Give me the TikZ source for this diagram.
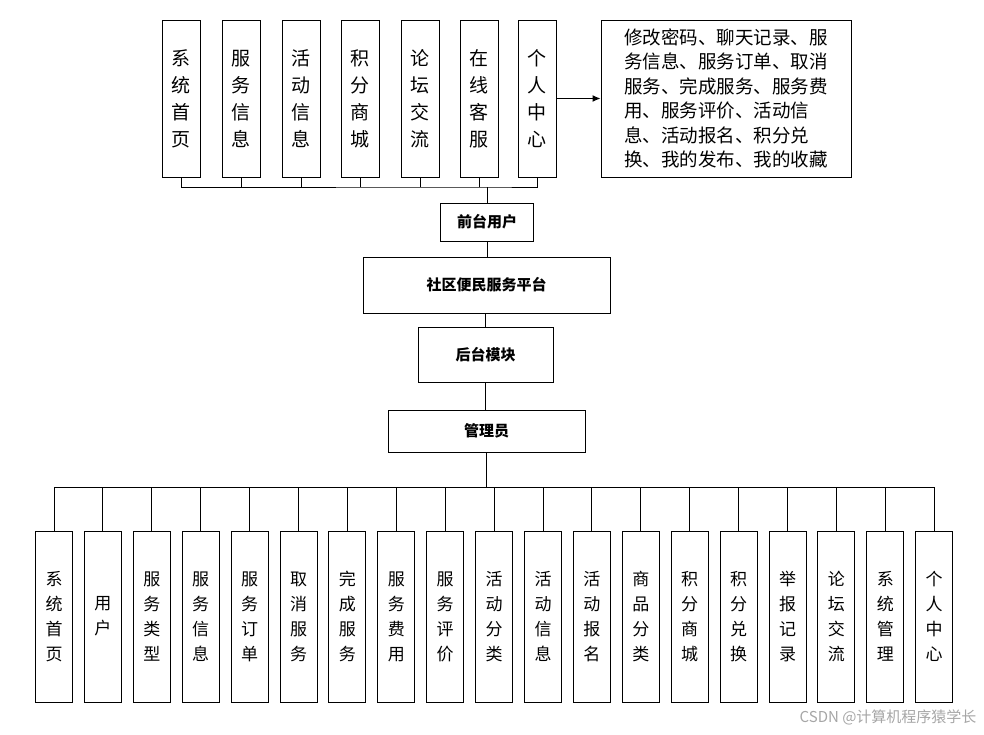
\documentclass[tikz,border=0pt]{standalone}
\usepackage{fontspec}
\setmainfont{Noto Sans CJK SC}
\usetikzlibrary{arrows.meta}
\begin{document}
\begin{tikzpicture}[x=1pt,y=-1pt,
  vbox/.style={draw,line width=1pt,minimum width=38pt,minimum height=157pt,align=center,font=\fontsize{19}{27}\selectfont,inner sep=0pt},
  bbox/.style={draw,line width=1pt,minimum width=37pt,minimum height=171pt,align=center,font=\fontsize{17}{25}\selectfont,inner sep=0pt},
  mbox/.style={draw,line width=1pt,font=\bfseries\fontsize{15}{18}\selectfont,inner sep=0pt},
  ln/.style={line width=1pt}]
\useasboundingbox (0,0) rectangle (984,734);
\foreach \i/\x/\t in {1/181/系\\统\\首\\页,2/241/服\\务\\信\\息,3/301/活\\动\\信\\息,4/360/积\\分\\商\\城,5/420/论\\坛\\交\\流,6/479/在\\线\\客\\服,7/537/个\\人\\中\\心}
  \node[vbox] (t\i) at (\x,98.5) {\t};
\node[draw,line width=1pt,minimum width=250pt,minimum height=157pt,align=left,inner sep=0pt,font=\fontsize{18.5}{24.5}\selectfont] (info) at (726,98.5)
 {修改密码、聊天记录、服\\务信息、服务订单、取消\\服务、完成服务、服务费\\用、服务评价、活动信\\息、活动报名、积分兑\\换、我的发布、我的收藏};
\draw[ln,-{Latex[length=8pt,width=7pt]}] (t7.east) -- (info.west);
\node[mbox,minimum width=93pt,minimum height=38pt] (qt) at (487,222) {前台用户};
\node[mbox,minimum width=247pt,minimum height=56pt] (pt) at (486.5,285) {社区便民服务平台};
\node[mbox,minimum width=135pt,minimum height=55pt] (ht) at (485.5,354.5) {后台模块};
\node[mbox,minimum width=197pt,minimum height=42pt] (gl) at (486.5,431) {管理员};
\coordinate (tb) at (487,187);
\draw[ln] (t1.south) |- (tb) -| (t7.south);
\foreach \i in {2,...,6} \draw[ln] (t\i.south) -- (t\i.south|-tb);
\draw[ln] (tb) -- (qt.north);
\draw[ln] (qt.south) -- (qt.south|-pt.north);
\draw[ln] (pt.south-|ht.north) -- (ht.north);
\draw[ln] (ht.south) -- (ht.south|-gl.north);
\coordinate (bb) at (487,487);
\draw[ln] (gl.south) -- (gl.south|-bb);
\foreach \i/\t [evaluate=\i as \x using 54+(\i-1)*48.9] in {1/系\\统\\首\\页,2/用\\户,3/服\\务\\类\\型,4/服\\务\\信\\息,5/服\\务\\订\\单,6/取\\消\\服\\务,7/完\\成\\服\\务,8/服\\务\\费\\用,9/服\\务\\评\\价,10/活\\动\\分\\类,11/活\\动\\信\\息,12/活\\动\\报\\名,13/商\\品\\分\\类,14/积\\分\\商\\城,15/积\\分\\兑\\换,16/举\\报\\记\\录,17/论\\坛\\交\\流,18/系\\统\\管\\理,19/个\\人\\中\\心}
{ \node[bbox] (b\i) at (\x,616.5) {\t};
  \draw[ln] (b\i.north) -- (b\i.north|-bb); }
\draw[ln] (b1.north|-bb) -- (b19.north|-bb);
\node[text=gray!70,font=\fontsize{15}{17}\selectfont,anchor=east] (wm) at (980,717) {CSDN @计算机程序猿学长};
\end{tikzpicture}
\end{document}
